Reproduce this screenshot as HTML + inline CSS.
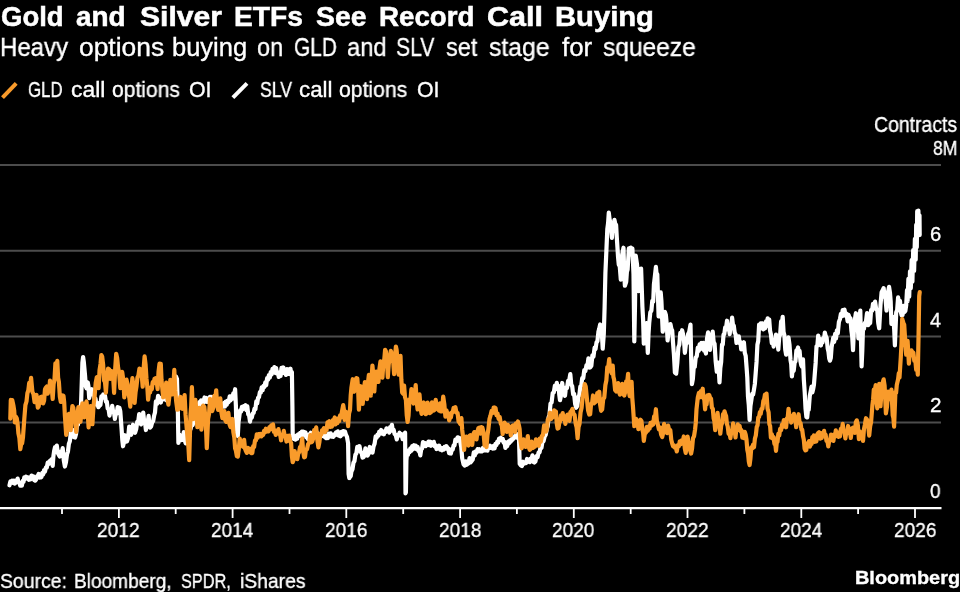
<!DOCTYPE html>
<html><head><meta charset="utf-8"><title>Gold and Silver ETFs See Record Call Buying</title>
<style>
html,body{margin:0;padding:0;background:#000;}
body{width:960px;height:592px;overflow:hidden;position:relative;font-family:"Liberation Sans",sans-serif;color:#fff;}
.t{position:absolute;white-space:nowrap;line-height:1;transform-origin:0 0;will-change:transform;}
.b{-webkit-text-stroke:0.55px #fff;}
.n{-webkit-text-stroke:0.35px #fff;}
svg{position:absolute;left:0;top:0;}
</style></head><body>
<svg width="960" height="592" viewBox="0 0 960 592">
<line x1="0" y1="165.0" x2="941" y2="165.0" stroke="#4c4c4c" stroke-width="2"/><line x1="0" y1="250.8" x2="941" y2="250.8" stroke="#4c4c4c" stroke-width="2"/><line x1="0" y1="336.6" x2="941" y2="336.6" stroke="#4c4c4c" stroke-width="2"/><line x1="0" y1="422.4" x2="941" y2="422.4" stroke="#4c4c4c" stroke-width="2"/>
<line x1="0" y1="508.2" x2="941.5" y2="508.2" stroke="#fff" stroke-width="2.2"/>
<line x1="62.0" y1="508.2" x2="62.0" y2="514" stroke="#fff" stroke-width="1.8"/><line x1="118.9" y1="508.2" x2="118.9" y2="518" stroke="#fff" stroke-width="1.8"/><line x1="175.7" y1="508.2" x2="175.7" y2="514" stroke="#fff" stroke-width="1.8"/><line x1="232.6" y1="508.2" x2="232.6" y2="518" stroke="#fff" stroke-width="1.8"/><line x1="289.5" y1="508.2" x2="289.5" y2="514" stroke="#fff" stroke-width="1.8"/><line x1="346.3" y1="508.2" x2="346.3" y2="518" stroke="#fff" stroke-width="1.8"/><line x1="403.2" y1="508.2" x2="403.2" y2="514" stroke="#fff" stroke-width="1.8"/><line x1="460.1" y1="508.2" x2="460.1" y2="518" stroke="#fff" stroke-width="1.8"/><line x1="516.9" y1="508.2" x2="516.9" y2="514" stroke="#fff" stroke-width="1.8"/><line x1="573.8" y1="508.2" x2="573.8" y2="518" stroke="#fff" stroke-width="1.8"/><line x1="630.7" y1="508.2" x2="630.7" y2="514" stroke="#fff" stroke-width="1.8"/><line x1="687.5" y1="508.2" x2="687.5" y2="518" stroke="#fff" stroke-width="1.8"/><line x1="744.4" y1="508.2" x2="744.4" y2="514" stroke="#fff" stroke-width="1.8"/><line x1="801.3" y1="508.2" x2="801.3" y2="518" stroke="#fff" stroke-width="1.8"/><line x1="858.1" y1="508.2" x2="858.1" y2="514" stroke="#fff" stroke-width="1.8"/><line x1="915.0" y1="508.2" x2="915.0" y2="518" stroke="#fff" stroke-width="1.8"/>
<path d="M9.5 485.29 L10.4 481.41 L11.3 482.46 L12.2 480.61 L13.1 482.91 L14 480.71 L14.9 483.57 L15.8 480.74 L16.7 481.72 L17.6 478.57 L18.48 482.48 L19.35 482.53 L20.23 485.67 L21.1 485.68 L21.9 485.69 L22.7 480.9 L23.5 481.95 L24.3 477.34 L25.2 478.88 L26.1 476.73 L27 477.45 L27.9 477.46 L28.8 479.76 L29.7 478.92 L30.6 479.23 L31.5 475.53 L32.4 476.76 L33.3 476.41 L34.2 479.98 L35.1 480.68 L36 479.83 L36.9 476.39 L37.8 475.95 L38.7 473.95 L39.6 477.54 L40.5 476.37 L41.4 477.19 L42.3 472.92 L43.2 474.35 L44.1 470.04 L45 471.69 L45.9 467.43 L46.8 467.58 L47.7 462.65 L48.6 463.99 L49.53 461.05 L50.47 462.78 L51.4 459.34 L52.7 465.97 L53.4 456.21 L54.1 451.24 L55 447.19 L55.9 449.47 L56.8 445.51 L57.85 453.07 L58.9 455.05 L59.85 456.55 L60.8 451.52 L61.75 452.7 L62.7 448.11 L63.8 460.3 L64.9 466.51 L65.95 462.27 L67 454.44 L67.95 451.56 L68.9 443.82 L69.85 441.21 L70.8 432.79 L71.9 434.56 L73 430 L74.05 437.3 L75.1 437.51 L76.05 433.87 L77 424.2 L77.95 424.77 L78.9 418.62 L80 413.43 L81.1 403.02 L82.4 362.87 L83.1 357.04 L83.8 361.85 L85.1 376.07 L85.8 386.29 L86.5 388.24 L87.8 382.49 L88.5 386.67 L89.2 398.14 L90.1 393.28 L91 394.39 L91.9 389.21 L92.8 394.38 L93.7 393.39 L94.6 399.5 L95.5 398.7 L96.4 404.65 L97.3 402.95 L98.4 407.17 L99.5 405.73 L100.45 404.86 L101.4 396.45 L102.3 398.02 L103.2 394.49 L104.1 395.66 L105 395.7 L105.9 401.78 L106.8 401.54 L107.7 408.4 L108.6 409.26 L109.5 415.57 L110.4 411.08 L111.3 411.72 L112.2 405.84 L113.1 411.4 L114 412.07 L114.9 418.93 L115.8 413.72 L116.7 413.8 L117.6 407.16 L118.5 409.29 L119.4 407.72 L120.3 411.33 L121.6 429.26 L122.3 439.92 L123 446.27 L123.95 442.48 L124.9 435.21 L125.95 441.63 L127 441.5 L128.1 437.85 L129.2 426.51 L130.15 434.47 L131.1 434.79 L132.05 432.48 L133 424.71 L134.05 431.46 L135.1 432.71 L136.2 429.16 L137.3 421.6 L138.25 421.17 L139.2 414.03 L140.15 421.97 L141.1 424.42 L142.15 421.15 L143.2 412.6 L144.1 420.85 L145 422.37 L145.9 430.03 L146.8 423.46 L147.7 421.84 L148.6 415.95 L149.3 423.85 L150 427.72 L151.1 426.35 L152.2 422.11 L153.15 421.08 L154.1 415.81 L155 412.47 L155.9 401.48 L157 403.91 L158.1 395.88 L159 400.69 L159.9 398.89 L160.8 402.58 L161.7 397.68 L162.6 399.7 L163.5 393.55 L164.4 398.96 L165.3 396.49 L166.2 400.15 L167.1 394.11 L168 393.91 L168.9 389.71 L169.8 391.19 L170.7 387.74 L171.6 390.09 L172.5 383.84 L173.4 383.36 L174.3 378.54 L175.2 380.07 L176.1 376.65 L177 378.94 L177.8 407.96 L178.4 442.93 L179.7 434.89 L180.8 440.09 L181.9 439.92 L182.85 439.97 L183.8 432.02 L184.75 440.44 L185.7 443.28 L186.75 439.35 L187.8 430.44 L188.7 431.49 L189.6 427.82 L190.5 429.29 L191.6 424.95 L192.7 425.04 L193.65 420.39 L194.6 421.85 L195.6 413.91 L196.6 414 L197.6 406.94 L198.6 406.72 L199.42 402.15 L200.24 403.73 L201.06 400.43 L201.88 402.81 L202.7 400.11 L203.6 402.85 L204.5 397.48 L205.4 399.32 L206.3 397.93 L207.2 401.98 L208.1 399.75 L209 401.13 L209.9 396.78 L210.8 398.14 L211.7 396.93 L212.6 400.54 L213.5 397.42 L214.4 402.19 L215.3 400.55 L216.2 405.15 L217.1 401.39 L218 403.76 L218.9 399.79 L219.8 405.37 L220.7 403.56 L221.6 407.69 L222.42 405.36 L223.24 406.54 L224.06 402.84 L224.88 406.57 L225.7 401.53 L226.7 404.78 L227.7 400.63 L228.7 401.99 L229.7 396.32 L230.6 400.34 L231.5 396.02 L232.4 398.72 L233.3 393.38 L234.2 395.16 L235.1 389.21 L235.9 405.81 L236.5 435.16 L237.8 435.96 L238.5 422.33 L239.2 417.28 L240.1 410.41 L241 411.58 L241.9 407 L242.8 409.27 L243.7 406.07 L244.6 408.29 L245.5 405.25 L246.4 410.11 L247.3 406.31 L248.2 414.36 L249.1 415.43 L250 421.56 L250.9 416.05 L251.8 417.59 L252.7 413.49 L253.6 412.96 L254.5 408.69 L255.4 409.21 L256.3 401.43 L257.2 403.32 L258.1 397.65 L259 397.21 L259.9 392.01 L260.8 392.64 L261.7 387.43 L262.6 390.36 L263.5 385.95 L264.4 386.97 L265.3 382.28 L266.2 385.25 L267.1 378.16 L268 379.77 L268.9 375.07 L269.8 377.61 L270.7 372.03 L271.6 374.46 L272.5 368.84 L273.4 372.24 L274.3 367.16 L275.2 372.92 L276.1 368.09 L277 373.71 L277.9 372.29 L278.8 376.98 L279.7 376.17 L280.6 376.01 L281.5 367.89 L282.4 368.82 L283.3 367.41 L284.2 373.11 L285.1 371.29 L286 374.96 L286.9 369.11 L287.8 374.02 L288.7 369.28 L289.6 373.77 L290.5 368.74 L291.2 374.81 L291.9 372.01 L292.4 406.28 L292.7 434.54 L293.65 438.76 L294.6 437.65 L295.5 439.5 L296.4 435.76 L297.3 438.66 L298.2 434.26 L299.1 435.81 L300 433.27 L300.9 435.88 L301.8 431.62 L302.7 434.86 L303.6 431.74 L304.5 434.72 L305.4 432.47 L306.3 437.27 L307.2 434.85 L308.1 439.33 L309 434.39 L309.9 436.22 L310.8 432.68 L311.7 436.87 L312.6 434.58 L313.5 437.69 L314.4 433.47 L315.3 434.98 L316.2 431.28 L317.1 434.89 L318 433.42 L318.9 437.17 L319.8 434.49 L320.7 436.53 L321.6 433.26 L322.5 435.93 L323.4 433.31 L324.3 436.57 L325.2 435.81 L326.1 438.18 L327 435.38 L327.9 438.04 L328.8 433.69 L329.7 435.97 L330.6 433.35 L331.5 436.58 L332.4 434.91 L333.3 436.86 L334.2 434.43 L335.1 435.29 L336 432.31 L336.9 434.52 L337.8 431.37 L338.7 435.54 L339.6 432.9 L340.5 436.28 L341.4 431.82 L342.3 434.82 L343.2 431.1 L344.1 433.17 L345 431.56 L345.9 434.54 L347 436.92 L348.1 443.25 L348.6 473.99 L349.3 478.05 L350 476.95 L350.7 476.19 L351.4 471.49 L352.45 469.37 L353.5 462.66 L354.45 461.15 L355.4 454.78 L356.35 453.36 L357.3 446.77 L358.4 449.37 L359.5 446.17 L360.55 451.9 L361.6 452.56 L362.55 457.61 L363.5 457.3 L364.45 455.65 L365.4 448.4 L366.5 454.59 L367.6 455.58 L368.65 453.59 L369.7 446.99 L370.65 452.1 L371.6 451.76 L372.55 452.5 L373.5 446.63 L374.6 443.72 L375.7 436.37 L376.6 437.71 L377.5 434.56 L378.4 435.62 L379.3 431.53 L380.2 433.55 L381.1 429.94 L382 433.54 L382.9 431.59 L383.8 434.3 L384.7 431.17 L385.6 431.89 L386.5 428.34 L387.4 430.97 L388.3 428.99 L389.2 432.6 L390.1 427 L391 429.18 L391.9 424.79 L392.8 430.92 L393.7 429.84 L394.6 433.93 L395.7 434.95 L396.8 439.45 L397.7 434.93 L398.6 435.78 L399.55 432.74 L400.5 435.1 L401.6 434.31 L402.7 439.18 L403.5 434.8 L404.3 436.72 L405.1 432.67 L405.5 493.42 L405.9 492.22 L406.4 460.68 L407 453.68 L407.83 455.04 L408.67 450.26 L409.5 452.41 L410.4 448.26 L411.3 450.83 L412.2 446.16 L413.1 449.33 L414 445.21 L414.9 447.76 L415.8 445.76 L416.7 449.21 L417.6 447.03 L418.5 451 L419.4 450.94 L420.3 455.4 L421.2 449.33 L422.1 448.48 L423 442.17 L423.9 445.35 L424.8 442.95 L425.7 446.12 L426.6 443.93 L427.5 444.68 L428.4 441.6 L429.3 445.14 L430.2 441.72 L431.1 445.82 L432 442.42 L432.9 444.55 L433.8 441.8 L434.7 446.33 L435.6 445.18 L436.5 449.04 L437.4 446.18 L438.3 447.98 L439.2 445.8 L440.1 449.63 L441 447.95 L441.9 450.22 L442.8 448.22 L443.7 449.46 L444.6 446.95 L445.5 448.56 L446.4 446.19 L447.3 447.69 L448.2 448.43 L449.1 453.21 L450 453.32 L450.9 453.55 L451.8 449.05 L452.7 449.5 L453.6 445.46 L454.5 445.37 L455.4 439.57 L456.5 441.25 L457.6 437.34 L458.5 440.39 L459.4 438 L460.3 441.88 L461.25 447.23 L462.2 458.35 L463.5 464.12 L464.6 465.57 L465.7 461.4 L466.65 464.85 L467.6 463.81 L468.55 463.3 L469.5 458.05 L470.55 462.35 L471.6 461.13 L472.7 459.59 L473.8 452.37 L474.75 455.59 L475.7 451.27 L476.6 452.81 L477.5 449.14 L478.4 450.2 L479.3 449.23 L480.2 451.36 L481.1 449.62 L482 451.39 L482.9 447.88 L483.8 450.44 L484.7 447.47 L485.6 450.45 L486.5 449.34 L487.4 450.65 L488.3 447.04 L489.2 446.88 L490.1 445.61 L491 447.91 L491.9 446.86 L492.8 448.68 L493.7 446.01 L494.6 448.22 L495.5 443.77 L496.4 445 L497.3 441.56 L498.2 442.62 L499.1 438.58 L500 439.56 L500.9 437.8 L501.8 440.39 L502.7 438.86 L503.6 442.58 L504.5 442 L505.4 447.99 L506.3 443.97 L507.2 445.99 L508.1 441.59 L509 443.35 L509.9 440.38 L510.8 441.55 L511.7 439.17 L512.6 439.72 L513.5 437.21 L514.4 437.84 L515.3 435.39 L516.2 436.58 L517.1 434.28 L518 438.3 L518.9 434.76 L519.7 463.85 L520.8 465.38 L521.9 466.15 L523 461.72 L524.05 463.7 L525.1 462.23 L526.05 463.08 L527 458.94 L527.9 461.16 L528.8 459.75 L529.7 462.16 L530.6 458.66 L531.5 459.41 L532.4 455.38 L533.35 462 L534.3 462.58 L535.4 461.53 L536.5 456.11 L537.55 457.24 L538.6 452.37 L539.55 452.44 L540.5 447.32 L541.45 447.8 L542.4 441.94 L543.5 441.38 L544.6 436.65 L545.7 434.95 L546.8 429.09 L547.7 426.22 L548.6 417.41 L549.55 414.27 L550.5 403.58 L551.6 402.4 L552.7 393.21 L553.8 392.31 L554.9 385.71 L555.85 389.26 L556.8 382.84 L557.7 388.13 L558.6 385.99 L559.3 395.06 L560 400.21 L561.1 395.04 L562.2 382.98 L563.15 391.41 L564.1 393.02 L565 395.76 L565.9 387.67 L567 387.99 L568.1 380.81 L569.2 380.72 L570.3 374.16 L571.25 384.5 L572.2 386.28 L573.15 394.27 L574.1 393.82 L575.15 403.95 L576.2 407.75 L577.3 405.9 L578.4 396.78 L579.35 395.09 L580.3 386.61 L581.25 385.84 L582.2 378.14 L583.25 378.3 L584.3 370.12 L585.4 370.92 L586.5 365.23 L587.45 365.65 L588.4 358.4 L589.35 367.57 L590.3 367.34 L591.35 365.88 L592.4 355.26 L593.5 356.57 L594.6 347.7 L595.55 349.04 L596.5 342.52 L597.45 341.06 L598.4 331.89 L599.2 328.87 L600.15 324.48 L601.1 327.58 L601.9 334.08 L602.7 348.75 L603.8 333.76 L604.6 307.32 L605.4 272.97 L606.5 247.99 L607.3 229.34 L608.1 223.03 L608.8 212.67 L609.5 218.76 L610.8 224.91 L611.9 237.91 L612.7 226.28 L613.5 225.78 L614.45 219.83 L615.4 224.75 L616.1 224.85 L616.8 237.5 L618.1 257.63 L618.8 264.87 L619.5 263.27 L620.8 279.63 L621.5 261.61 L622.2 254.58 L623.5 247.69 L624.2 272.63 L624.9 285.77 L626.2 281.82 L626.9 271.84 L627.6 269.65 L628.9 248.42 L629.85 253.01 L630.8 247.66 L631.6 254.42 L632.4 248.64 L633.5 274.02 L634.3 341.42 L635 305.23 L635.7 255.52 L637 264.28 L637.7 272.63 L638.4 291.08 L639.7 269.16 L640.4 274.51 L641.1 268.5 L642.4 306.79 L643.1 319.36 L643.8 343.65 L645.1 327.73 L645.8 328.99 L646.5 323.16 L647.8 352.8 L648.5 334.21 L649.2 323.35 L650.3 312.46 L651.4 310.67 L652.3 300.75 L653.2 301.75 L653.9 284.56 L654.6 278.79 L655.9 266.87 L656.6 274.55 L657.3 274.24 L658.6 316.44 L659.3 300.95 L660 296.33 L660.7 292.36 L661.4 300.83 L662.7 331.74 L663.8 326.3 L664.9 311.74 L665.9 315.1 L666.75 324.18 L667.6 340.46 L668.55 330.46 L669.5 330.52 L670.45 324.19 L671.4 329.02 L672.2 330.58 L673 342.37 L673.95 354.91 L674.9 372.6 L676.2 373.64 L677.3 363.06 L678.4 347.42 L679.35 344.6 L680.3 332.93 L681.2 337.27 L682.1 330.22 L683 333.99 L683.95 339.95 L684.9 352.87 L685.95 343.74 L687 342.95 L688.1 334.22 L689.2 331.88 L690.5 324.62 L691.2 359.15 L691.9 384.13 L692.85 379.01 L693.8 366.4 L694.75 366.98 L695.7 357.59 L696.75 356.25 L697.8 347.54 L698.7 350.86 L699.6 344.43 L700.5 348.92 L701.4 342.97 L702.3 348.67 L703.2 342.8 L704.1 350.63 L705 348.61 L705.9 353.51 L707 338.55 L708.1 332.44 L709.05 336.26 L710 349.86 L710.9 339.09 L711.8 340.55 L712.7 331.68 L713.65 341.93 L714.6 343.95 L715.7 361.79 L716.8 371.66 L718.1 362.66 L718.8 369.54 L719.5 382.34 L720.33 367.99 L721.17 362.04 L722 344.5 L722.77 344.56 L723.53 334.6 L724.3 334.12 L725.2 327.39 L726.1 327.8 L727 320.72 L727.9 329.62 L728.8 326.38 L729.7 334.13 L730.5 325.49 L731.3 325.41 L732.1 317.64 L732.95 324.66 L733.8 325.84 L734.7 332.73 L735.6 334.3 L736.5 343.01 L737.27 338.03 L738.03 341.17 L738.8 336.36 L739.6 343.03 L740.4 341.88 L741.2 349.4 L742.1 343.16 L743 346.5 L743.9 342.21 L744.8 352.96 L745.7 355.92 L746.6 367.55 L747.3 377.56 L748 396.57 L748.8 405.13 L749.6 419.92 L750.45 405.85 L751.3 400.52 L752.2 393.9 L753.1 394.71 L754 389.43 L754.85 384.02 L755.7 373.03 L756.55 361.92 L757.4 344.82 L758.25 340.93 L759.1 324.58 L759.9 328.7 L760.7 323.39 L761.5 326.1 L762.4 323.35 L763.3 329.42 L764.2 327.32 L765.1 328.28 L766 321.4 L766.9 325.87 L767.67 318.33 L768.43 323.8 L769.2 319.46 L770.05 330.72 L770.9 334.24 L771.8 343.15 L772.7 339.6 L773.6 346.56 L774.4 339.24 L775.2 341.22 L776 334.59 L776.77 342.62 L777.53 341.04 L778.3 349.56 L779.23 336.97 L780.17 334.21 L781.1 321.44 L781.9 324.46 L782.7 316.81 L783.55 331.98 L784.4 335.37 L785.25 349.72 L786.1 354.65 L786.9 352.57 L787.7 339.29 L788.5 337.52 L789.5 344.68 L790.5 360.01 L791.2 363.86 L791.9 376.41 L792.8 368.17 L793.7 370.89 L794.6 362.66 L795.5 361.11 L796.4 350.36 L797.3 350.16 L798.07 347.41 L798.83 353.78 L799.6 350.87 L800.45 361.38 L801.3 365.43 L802.15 366.82 L803 359.29 L803.85 379.84 L804.7 392.04 L805.55 408.89 L806.4 417.14 L807.17 417.44 L807.93 409.97 L808.7 409.74 L809.75 396.19 L810.8 390.51 L811.57 386.56 L812.33 392.44 L813.1 389.27 L813.95 384.62 L814.8 373.74 L815.65 362.98 L816.5 346.34 L817.35 345.82 L818.2 335.53 L819.1 342.17 L820 339.11 L820.9 345.54 L821.7 339.42 L822.5 342.55 L823.3 337.99 L824.07 339.35 L824.83 332.56 L825.6 335.74 L826.65 337.83 L827.7 348.61 L828.47 351.68 L829.23 358.53 L830 360.69 L830.8 358.02 L831.6 347.11 L832.4 342.56 L833.3 337.5 L834.2 341.83 L835.1 333.89 L836 338.45 L836.9 330.27 L837.8 333.21 L838.9 321.87 L840 318.96 L840.9 313.84 L841.8 316.27 L842.7 310.08 L843.6 315.72 L844.5 309.51 L845.4 314.56 L846.5 313.76 L847.6 321.32 L848.55 314.92 L849.5 317.88 L850.45 318.23 L851.4 330.68 L852.2 336.42 L853 350.08 L853.95 329.26 L854.9 319.27 L855.85 313.22 L856.8 316.2 L857.6 322.68 L858.4 338.35 L859.35 318.97 L860.3 310.63 L861.6 366.42 L862.3 350.55 L863 327.46 L863.95 328.95 L864.9 322.85 L865.95 321.78 L867 313.19 L868.1 325.2 L869.2 323.7 L870.15 322.97 L871.1 310.19 L872.05 310.84 L873 303.76 L874.05 307.2 L875.1 301.68 L876.2 309.35 L877.3 310.23 L878.25 323.12 L879.2 328.26 L880.5 304.93 L881.6 292.29 L882.7 290.3 L883.65 288.06 L884.6 296.6 L885.55 298.57 L886.5 310.52 L887.3 296.54 L888.1 291.95 L889.05 286.87 L890 292.84 L890.7 301.73 L891.4 323.85 L892.45 316.54 L893.5 320.04 L894.2 329.72 L894.9 345.35 L896.2 312.3 L897.15 310.19 L898.1 297.35 L899.05 304.83 L900 300.81 L900.8 311.87 L901.6 315.37 L902.55 315.09 L903.5 305.85 L904.45 312.16 L905.4 310.79 L906.2 305.14 L907 290.22 L907.6 301.15 L908.4 278.9 L909.2 296.72 L910 271.36 L910.8 288.31 L911.6 260.2 L912.4 281.61 L913.2 250.04 L914.1 270.95 L914.9 238.85 L915.7 259.82 L916.2 224.9 L916.8 247.22 L917.2 211.19 L917.8 234.06 L918.4 210.49 L918.9 232.9 L919.5 215.38 L919.7 235.1" fill="none" stroke="#fff" stroke-width="4.2" stroke-linejoin="round" stroke-linecap="round"/>
<path d="M10.3 418.6 L10.8 399.97 L11.5 404.6 L12.2 400.03 L13.5 406 L14.2 410.48 L14.9 422.37 L15.85 416.57 L16.8 418.51 L17.6 423.61 L18.4 433.41 L19.35 437.76 L20.3 449.25 L21.2 443.99 L22.1 443.34 L23 437.22 L24.3 418.8 L25.4 405.22 L26.5 401.52 L27.4 393.22 L28.3 390.49 L29.2 382.89 L30.15 385.65 L31.1 377.85 L32.4 391.85 L33.5 394.14 L34.6 402.24 L35.55 395.98 L36.5 395.07 L37.8 407.65 L38.7 406.26 L39.6 399.11 L40.5 397.22 L41.4 396.76 L42.3 402.82 L43.2 403.29 L44.1 400.55 L45 389.25 L45.9 387.56 L46.8 386.51 L47.7 393.76 L48.6 390.3 L49.3 388.93 L50 380.7 L50.9 389.54 L51.8 388.84 L52.7 398.94 L53.6 384.1 L54.5 379.16 L55.4 363.44 L56.35 366.61 L57.3 360.94 L58.1 377.53 L58.9 382.12 L59.85 396.62 L60.8 401.98 L61.7 401.33 L62.6 395.46 L63.5 395.94 L64.2 402.33 L64.9 416 L66.2 434.82 L67.1 430.48 L68 418.18 L68.9 413.76 L69.85 418.68 L70.8 430.09 L71.6 413.86 L72.4 406.06 L73.35 407.88 L74.3 416.68 L75.25 422.25 L76.2 431.84 L77.3 415.39 L78.4 407.12 L79.45 410.16 L80.5 421.83 L81.45 409.73 L82.4 403.35 L83.35 405.19 L84.3 417.29 L85.4 404.77 L86.5 401.42 L87.55 410.91 L88.6 427.43 L89.55 412.11 L90.5 406.19 L91.45 411.82 L92.4 424.25 L93.5 406.12 L94.6 396.33 L95.7 382.89 L96.8 377.26 L97.7 376.71 L98.6 388.18 L99.55 370.08 L100.5 364.02 L101.35 355.02 L102.2 356.69 L103.15 364.82 L104.1 380.71 L105 382.06 L105.9 392.72 L107 376.96 L108.1 368.51 L109.2 369.4 L110.3 378.81 L111.25 371.14 L112.2 371.27 L113.15 377.22 L114.1 392.83 L115.15 369.47 L116.2 353.75 L117.15 357.86 L118.1 367.6 L119.2 373.23 L120.3 388.12 L121.25 374.03 L122.2 371.97 L123.25 379.46 L124.3 397.31 L125.4 383.5 L126.5 379.64 L127.45 384.05 L128.4 394.05 L129.35 397.83 L130.3 406.6 L131.35 389.12 L132.4 378.16 L133.5 386.83 L134.6 402.98 L135.55 392.27 L136.5 386.34 L137.45 377.47 L138.4 375.63 L139.45 368.61 L140.5 369.08 L141.6 373.57 L142.7 386.75 L143.65 368.07 L144.6 356.43 L145.55 364.22 L146.5 378.98 L147.3 386.5 L148.1 399.64 L149.05 391.58 L150 392.57 L150.9 387.35 L151.8 389.25 L152.7 382.2 L153.6 383.31 L154.5 378.79 L155.4 378.26 L156.5 379.71 L157.6 389.03 L158.55 371.54 L159.5 363.65 L160.8 363.78 L161.5 379.79 L162.2 387.28 L163.15 397.28 L164.1 396.59 L165.15 393.21 L166.2 382.62 L167.3 397.69 L168.4 404.74 L169.35 396.18 L170.3 379.93 L171.25 390.12 L172.2 394.39 L173.25 387.75 L174.3 369.77 L175.25 390.14 L176.2 401.36 L177.3 409.6 L178.4 409.4 L179.35 407.86 L180.3 396.83 L181.35 405.4 L182.4 408.74 L183.5 405.5 L184.6 395.01 L185.55 414.69 L186.5 425.8 L187.8 440.89 L188.5 447.76 L189.2 460.08 L190.5 414.81 L191.2 405.79 L191.9 387.12 L193.2 419.12 L194.3 406.57 L195.4 399.87 L196.35 409.93 L197.3 427.26 L198.25 415.12 L199.2 407.79 L200.3 415.47 L201.4 429.66 L202.3 414.46 L203.2 405.61 L204.3 406.81 L205.4 417.57 L206.1 430.41 L206.8 448.25 L208.1 418.91 L209.05 413.78 L210 398.8 L211.1 408.32 L212.2 411 L213.25 407.7 L214.3 395.83 L215.25 398.29 L216.2 390.25 L217.15 404.87 L218.1 409.96 L219.2 408.65 L220.3 398.33 L221.35 412.11 L222.4 418.07 L223.35 417.15 L224.3 411.09 L225.25 420.26 L226.2 421.87 L227.3 421.26 L228.4 412.88 L229.45 424.1 L230.5 426.99 L231.45 425.73 L232.4 418.99 L233.35 432.14 L234.3 437.44 L235.1 448.26 L235.9 450.61 L236.85 456.19 L237.8 456.64 L238.75 449.42 L239.7 438.5 L240.8 443.99 L241.9 445.17 L243 446.63 L244.1 439.76 L245 448.5 L245.9 451.07 L246.8 452.84 L247.7 447.85 L248.6 448.91 L249.53 448.59 L250.47 452.55 L251.4 453.08 L252.3 453.06 L253.2 446.18 L254.1 446.88 L255 440.44 L255.9 440.35 L256.8 434.36 L257.7 437.83 L258.6 434.03 L259.5 435.75 L260.4 433.88 L261.3 436.46 L262.2 434.18 L263.1 434.96 L264 430.84 L264.9 432.33 L265.8 428.67 L266.7 431.52 L267.6 430.11 L268.5 431.34 L269.4 427.15 L270.3 429.27 L271.2 425.43 L272.1 428.9 L273 424.36 L273.9 431.75 L274.8 430.3 L275.7 434.94 L276.6 431.32 L277.5 432.85 L278.4 429.16 L279.3 434.06 L280.2 434.91 L281.1 440.29 L282 434.8 L282.9 436 L283.8 430.87 L284.7 435.91 L285.6 436.18 L286.5 441.54 L287.4 435.84 L288.3 439.87 L289.2 435.65 L290.15 441.57 L291.1 442.88 L291.9 456.28 L292.7 462.11 L293.65 459.78 L294.6 450.99 L295.5 455.5 L296.4 454.84 L297.3 459.16 L298.2 453.79 L299.1 452.15 L300 447.01 L301.1 446.44 L302.2 438.54 L303.15 451.18 L304.1 457.3 L305 457 L305.9 449.54 L307 449.23 L308.1 444.21 L309.2 442.55 L310.3 435.06 L311.25 442.29 L312.2 441.53 L313.15 438.57 L314.1 430.18 L315.15 432.36 L316.2 427.35 L317.3 439.74 L318.4 447.47 L319.35 442.42 L320.3 433.82 L321.2 434.53 L322.1 430.2 L323 430.02 L323.9 428.18 L324.8 432.23 L325.7 429.69 L326.6 429.96 L327.5 422.25 L328.4 422.12 L329.3 421.17 L330.2 427.01 L331.1 425.67 L332 426.44 L332.9 420.04 L333.8 420.76 L334.7 417.43 L335.6 424.4 L336.5 422.45 L337.4 422.92 L338.3 418.42 L339.2 421.06 L340.1 415.25 L341 417.46 L341.9 411.96 L343.2 405.09 L343.9 409.49 L344.6 419.78 L345.55 411.66 L346.5 412.83 L347.3 414.39 L348.1 426.22 L349.05 413.37 L350 409.91 L350.7 395.53 L351.4 387.83 L352.7 379.23 L353.4 389.92 L354.1 391.68 L355.4 384.69 L356.35 378.12 L357.3 378.53 L358.1 388.55 L358.9 409.59 L359.85 393.3 L360.8 386.22 L361.75 390.79 L362.7 403.89 L363.8 389.7 L364.9 382.03 L365.95 387.76 L367 399.14 L367.95 382.7 L368.9 374.82 L369.85 382.24 L370.8 395.76 L371.6 377.98 L372.4 365.57 L373.35 374.89 L374.3 391.49 L375.25 377.25 L376.2 371.69 L377.3 372.6 L378.4 381.96 L379.45 368.78 L380.5 361.35 L381.45 364.71 L382.4 377.7 L383.35 363.52 L384.3 359.13 L385.1 349.75 L385.9 351.19 L386.85 359.98 L387.8 377.25 L388.75 364.11 L389.7 358.34 L390.8 350.9 L391.9 354.44 L393 358.09 L394.1 374.03 L395 356.12 L395.9 346.55 L396.6 349.61 L397.3 358.63 L398.6 374.64 L399.55 369.69 L400.5 355.78 L401.35 379.7 L402.2 392.54 L403.15 393.86 L404.1 385.66 L405 397.09 L405.9 399.8 L406.75 415.34 L407.6 421.89 L408.55 415.61 L409.5 399.35 L410.45 399.88 L411.4 389.18 L412.45 399.36 L413.5 403.56 L414.6 397.42 L415.7 385.04 L416.65 401.38 L417.6 409.44 L418.55 405.89 L419.5 394.3 L420.55 407.8 L421.6 413.87 L422.7 411.41 L423.8 402.47 L424.75 411.78 L425.7 414.18 L426.65 413.48 L427.6 402.7 L428.65 411.64 L429.7 413.01 L430.8 412.48 L431.9 402.41 L432.85 410.74 L433.8 410.43 L434.75 409.84 L435.7 399.8 L436.75 408.02 L437.8 407.51 L438.9 410.54 L440 403.26 L440.95 411.49 L441.9 411.32 L443.2 396.6 L444.3 404.05 L445.4 416.69 L446.35 410.28 L447.3 413.17 L448.25 413.37 L449.2 420.38 L450 417.63 L450.9 417.47 L451.8 412.43 L452.7 412.39 L453.6 407.79 L454.5 410.05 L455.4 407.23 L456.5 412.81 L457.6 413.03 L458.55 421.23 L459.5 422.67 L460.45 424.33 L461.4 418.06 L462.2 429.89 L463 436.45 L464.1 449.97 L465.15 440.46 L466.2 436.52 L467.3 437.55 L468.4 445.55 L469.35 435.94 L470.3 435.25 L471.25 436.44 L472.2 445 L473.25 434.48 L474.3 432.19 L475.4 432.3 L476.5 439.45 L477.45 431.49 L478.4 428.19 L479.35 427.73 L480.3 433.58 L481.35 427.14 L482.4 427.69 L483.5 432.19 L484.6 445.5 L485.55 442.49 L486.5 447.04 L487.45 435.16 L488.4 429.13 L489.45 419.2 L490.5 415.62 L491.6 410.93 L492.7 413.01 L493.65 407.65 L494.6 407.47 L495.55 408 L496.5 415.19 L497.55 413.56 L498.6 418.9 L499.7 417.05 L500.8 423.62 L501.75 425.32 L502.7 434.09 L503.65 426.22 L504.6 422.6 L505.7 424.71 L506.8 431.85 L507.85 424.85 L508.9 426.98 L509.85 426.96 L510.8 435.28 L511.75 426.35 L512.7 425.61 L513.8 425.1 L514.9 432.14 L515.95 423.26 L517 423.23 L517.95 421.5 L518.9 425.17 L519.6 428.94 L520.3 439.41 L521.6 448.31 L522.55 446.16 L523.5 439.39 L524.6 446.19 L525.7 446.8 L526.75 445.17 L527.8 436.08 L528.75 447.08 L529.7 449.73 L530.65 449.02 L531.6 441.53 L532.7 447.94 L533.8 447.17 L534.85 446.59 L535.9 439.43 L536.85 445.26 L537.8 444.47 L538.75 445.82 L539.7 438.73 L540.8 441.66 L541.9 436.02 L543 434.94 L544.1 425.41 L545 431.36 L545.9 431.53 L546.85 429.4 L547.8 419.39 L548.9 419.72 L550 412.74 L551.1 419.01 L552.2 417.47 L553.15 416.88 L554.1 410.26 L555 414.3 L555.9 411.45 L556.75 423.47 L557.6 428.63 L558.55 427.96 L559.5 421.16 L560 421.77 L560.9 415.48 L561.8 418.6 L562.7 413 L563.6 419.49 L564.5 418.02 L565.4 423.82 L566.5 416.14 L567.6 414.59 L568.55 414.65 L569.5 420.86 L570.45 412.07 L571.4 411.11 L572.45 408.99 L573.5 413.76 L574.6 415.01 L575.7 423.74 L576.65 427.48 L577.6 438.2 L578.55 427.16 L579.5 423.95 L580.55 412.55 L581.6 407.78 L582.7 396.28 L583.8 391.55 L584.75 384.09 L585.7 386.55 L587 399.55 L588.1 410.44 L589.2 414.53 L590.15 414.19 L591.1 403.83 L592.05 403.29 L593 395.48 L594.05 403.33 L595.1 402.31 L596.2 401.55 L597.3 393.07 L598.25 397.05 L599.2 391.73 L600.15 404.67 L601.1 410.8 L602.15 409.46 L603.2 399.29 L604.3 397.36 L605.4 384.95 L606.35 380.55 L607.3 366.98 L608.25 366.93 L609.2 359.17 L610 368.59 L610.8 371.31 L611.75 373.22 L612.7 365.65 L613.4 376.92 L614.1 379.51 L615.15 390.22 L616.2 391.45 L617.15 390.04 L618.1 383.05 L619.05 392.33 L620 394.66 L621.1 391.58 L622.2 383.92 L623.25 393.93 L624.3 395.51 L625.25 391.65 L626.2 381.26 L627.15 382.19 L628.1 373.79 L628.9 390.84 L629.7 396.16 L630.65 393.3 L631.6 381.94 L632.3 398.12 L633 406.91 L634.3 426.27 L635.25 419.82 L636.2 419.07 L637.3 421.23 L638.4 429.11 L639.45 421.53 L640.5 419.77 L641.45 421.05 L642.4 429.93 L643.1 432.44 L643.8 440.87 L644.85 433.57 L645.9 432.63 L646.85 426.97 L647.8 430.77 L648.7 426.43 L649.6 428.6 L650.5 422.97 L651.4 425.84 L652.3 422.12 L653.2 424.59 L654.1 416.45 L655 417.08 L655.9 409.23 L656.85 420.97 L657.8 424.41 L658.9 429.28 L660 427.4 L661.1 434.43 L662.2 437.02 L663.15 432.92 L664.1 423.94 L665 430.37 L665.9 431.95 L667 433.12 L668.1 425.61 L669.2 430.18 L670.3 430.02 L671.25 439.78 L672.2 443.62 L673.1 446.29 L674 445.29 L674.9 447.76 L675.85 447.71 L676.8 451.4 L677.85 445.08 L678.9 446.15 L679.8 441.25 L680.7 444.33 L681.6 440.26 L682.7 442.05 L683.8 436.45 L684.75 448.09 L685.7 452.82 L686.65 447.05 L687.6 436.52 L688.65 443.31 L689.7 443.06 L690.4 451.34 L691.1 453.59 L692.05 448.52 L693 438.16 L694.05 436.17 L695.1 429.33 L695.8 422.46 L696.5 409.23 L697.8 397.52 L698.9 392.86 L700 397.32 L700.9 391.06 L701.8 395.1 L702.7 388.74 L703.5 398.43 L704.3 399.64 L705.1 409.39 L705.87 402.07 L706.63 404.33 L707.4 395.39 L708.3 397.99 L709.2 394.92 L710.1 397.56 L711 398.55 L711.9 407.67 L712.8 408.79 L713.6 418.13 L714.4 421.18 L715.2 430.16 L716 423.15 L716.8 421.14 L717.6 412.85 L718.5 423.28 L719.4 425.64 L720.3 433.68 L721.2 425.51 L722.1 423.11 L723 414.19 L723.77 414.77 L724.53 411.26 L725.3 414.05 L726.1 415.95 L726.9 423.93 L727.7 426.34 L728.6 433.65 L729.5 431.9 L730.4 438.21 L731.3 431.59 L732.2 430.29 L733.1 423.38 L733.9 429.9 L734.7 430.61 L735.5 437.45 L736.27 429.4 L737.03 430.4 L737.8 424.3 L738.7 428.33 L739.6 425.89 L740.5 431.25 L741.4 429.9 L742.3 437.58 L743.2 436.75 L744 438.12 L744.8 431.85 L745.6 434.29 L746.45 439.29 L747.3 449.76 L748.07 453.31 L748.83 461.49 L749.6 465.03 L750.45 458.43 L751.3 447.3 L752.2 448.43 L753.1 444.58 L754 447.27 L754.9 438.66 L755.8 435.46 L756.7 427.23 L757.5 425.45 L758.3 417.32 L759.1 416.91 L759.9 412.09 L760.7 413.89 L761.5 408.95 L762.4 408.69 L763.3 401.17 L764.2 399.15 L764.97 394.52 L765.73 399 L766.5 393.52 L767.55 408.67 L768.6 412.28 L769.37 424.23 L770.13 426.05 L770.9 437.71 L771.8 434.27 L772.7 438.45 L773.6 437.09 L774.4 443.77 L775.2 443.11 L776 450.87 L776.77 442.49 L777.53 441.85 L778.3 433.96 L779.23 435.55 L780.17 428.9 L781.1 430.07 L782 424.71 L782.9 426.77 L783.8 420 L784.57 423.97 L785.33 423.08 L786.1 427.29 L786.9 418.25 L787.7 417.75 L788.5 408.85 L789.4 415.56 L790.3 415.6 L791.2 422.6 L792.1 418.65 L793 419.21 L793.9 413.8 L794.67 419.4 L795.43 420.59 L796.2 427.17 L797 420.04 L797.8 419.34 L798.6 414.22 L799.6 422.64 L800.6 423.2 L801.4 429.58 L802.2 429.59 L803 435.98 L803.8 439.63 L804.6 448.68 L805.4 450.41 L806.3 449.92 L807.2 443.26 L808.1 443.81 L809 441.04 L809.9 446.59 L810.8 444.13 L811.57 443.96 L812.33 437.05 L813.1 437.76 L813.9 435.42 L814.7 441.81 L815.5 439.99 L816.4 441.24 L817.3 434.23 L818.2 433.05 L819.1 432.14 L820 438.57 L820.9 437.11 L821.7 438.03 L822.5 432.81 L823.3 434.39 L824.07 430.9 L824.83 435.98 L825.6 434.58 L826.5 440.93 L827.4 440.64 L828.3 446.44 L829.2 440.94 L830.1 440.63 L831 434.65 L831.8 437.3 L832.6 436.36 L833.4 441 L834.2 434.41 L835 436.76 L835.8 430.28 L836.7 434.86 L837.6 432.49 L838.5 436.95 L839.25 433.01 L840 436.33 L840.9 428.83 L841.8 430.12 L842.7 423.94 L843.6 430.81 L844.5 431.93 L845.4 438.4 L846.3 432.29 L847.2 433.07 L848.1 425.98 L849 431.85 L849.9 431.24 L850.8 437.95 L851.9 428.53 L853 427.73 L853.95 427.25 L854.9 432.85 L855.85 422 L856.8 420.42 L857.85 425.28 L858.9 439.15 L860 431.66 L861.1 433.72 L862.05 434.07 L863 440.99 L863.95 429.13 L864.9 424.66 L865.95 418.23 L867 419.54 L868.1 424.59 L869.2 435.63 L870.15 426.39 L871.1 421.94 L872.4 405.31 L873.1 399.73 L873.8 389.56 L874.75 390.92 L875.7 385.14 L876.5 401.08 L877.3 408.32 L878.25 400.71 L879.2 383.91 L880.5 406.24 L881.6 389.53 L882.7 382.65 L883.65 379.38 L884.6 385.54 L885.9 413.33 L887 406.71 L888.1 391.5 L889.05 399.32 L890 396.42 L890.7 395.87 L891.4 389.66 L892.7 415.26 L893.4 417.96 L894.1 426.63 L895.4 392.08 L896.1 392.8 L896.8 384.9 L898.1 379.22 L898.8 373.17 L899.5 377.7 L900.8 357.2 L901.5 343.69 L902.2 318.86 L903.5 323.41 L904.2 324.51 L904.9 336.23 L906.2 354.76 L906.9 354.13 L907.6 340.87 L908.9 363.59 L909.6 354.9 L910.3 355.92 L911.35 350.33 L912.4 352.06 L913.35 352.58 L914.3 360.71 L915.25 359.3 L916.2 369.77 L917 366.16 L917.8 374.61 L918.6 332.78 L919.2 296.12 L919.7 292.2" fill="none" stroke="#f99b2b" stroke-width="4.2" stroke-linejoin="round" stroke-linecap="round"/>
<line x1="2.5" y1="97.6" x2="16.2" y2="83.4" stroke="#f99b2b" stroke-width="4"/>
<line x1="232.9" y1="97.6" x2="247" y2="83.4" stroke="#fff" stroke-width="4"/>
</svg>
<div class="t b" id="t0" style="left:1.21px;top:3.02px;font-size:27.5px;font-weight:bold;transform:scaleX(0.9954);">Gold</div>
<div class="t b" id="t1" style="left:76.46px;top:3.02px;font-size:27.5px;font-weight:bold;transform:scaleX(1.0152);">and</div>
<div class="t b" id="t2" style="left:139.90px;top:3.02px;font-size:27.5px;font-weight:bold;transform:scaleX(1.0950);">Silver</div>
<div class="t b" id="t3" style="left:233.97px;top:3.02px;font-size:27.5px;font-weight:bold;transform:scaleX(1.0241);">ETFs</div>
<div class="t b" id="t4" style="left:315.70px;top:3.02px;font-size:27.5px;font-weight:bold;transform:scaleX(1.0315);">See</div>
<div class="t b" id="t5" style="left:378.50px;top:3.02px;font-size:27.5px;font-weight:bold;transform:scaleX(1.0081);">Record</div>
<div class="t b" id="t6" style="left:487.08px;top:3.02px;font-size:27.5px;font-weight:bold;transform:scaleX(1.1099);">Call</div>
<div class="t b" id="t7" style="left:554.65px;top:3.02px;font-size:27.5px;font-weight:bold;transform:scaleX(1.0613);">Buying</div>
<div class="t n" id="s0" style="left:0.38px;top:34.71px;font-size:25.5px;transform:scaleX(0.9416);">Heavy</div>
<div class="t n" id="s1" style="left:79.24px;top:34.71px;font-size:25.5px;transform:scaleX(1.0352);">options</div>
<div class="t n" id="s2" style="left:171.65px;top:34.71px;font-size:25.5px;transform:scaleX(0.9947);">buying</div>
<div class="t n" id="s3" style="left:257.16px;top:34.71px;font-size:25.5px;transform:scaleX(0.9209);">on</div>
<div class="t n" id="s4" style="left:294.26px;top:34.71px;font-size:25.5px;transform:scaleX(0.8183);">GLD</div>
<div class="t n" id="s5" style="left:347.15px;top:34.71px;font-size:25.5px;transform:scaleX(0.9326);">and</div>
<div class="t n" id="s6" style="left:396.35px;top:34.71px;font-size:25.5px;transform:scaleX(0.8310);">SLV</div>
<div class="t n" id="s7" style="left:445.60px;top:34.71px;font-size:25.5px;transform:scaleX(0.9206);">set</div>
<div class="t n" id="s8" style="left:489.06px;top:34.71px;font-size:25.5px;transform:scaleX(0.9705);">stage</div>
<div class="t n" id="s9" style="left:562.41px;top:34.71px;font-size:25.5px;transform:scaleX(1.0158);">for</div>
<div class="t n" id="s10" style="left:603.31px;top:34.71px;font-size:25.5px;transform:scaleX(0.9616);">squeeze</div>
<div class="t n" id="la0" style="left:28.46px;top:80.27px;font-size:21.3px;transform:scaleX(0.7881);">GLD</div>
<div class="t n" id="la1" style="left:71.29px;top:80.27px;font-size:21.3px;transform:scaleX(1.0736);">call</div>
<div class="t n" id="la2" style="left:112.46px;top:80.27px;font-size:21.3px;transform:scaleX(0.9896);">options</div>
<div class="t n" id="la3" style="left:188.85px;top:80.27px;font-size:21.3px;transform:scaleX(0.9900);">OI</div>
<div class="t n" id="lb0" style="left:259.51px;top:80.27px;font-size:21.3px;transform:scaleX(0.8272);">SLV</div>
<div class="t n" id="lb1" style="left:299.41px;top:80.27px;font-size:21.3px;transform:scaleX(1.0467);">call</div>
<div class="t n" id="lb2" style="left:339.45px;top:80.27px;font-size:21.3px;transform:scaleX(0.9941);">options</div>
<div class="t n" id="lb3" style="left:417.05px;top:80.27px;font-size:21.3px;transform:scaleX(0.9900);">OI</div>
<div class="t n" id="src0" style="left:0.43px;top:570.69px;font-size:20.8px;transform:scaleX(0.9339);">Source:</div>
<div class="t n" id="src1" style="left:73.77px;top:570.69px;font-size:20.8px;transform:scaleX(0.9178);">Bloomberg,</div>
<div class="t n" id="src2" style="left:181.27px;top:570.69px;font-size:20.8px;transform:scaleX(0.7840);">SPDR,</div>
<div class="t n" id="src3" style="left:239.74px;top:570.69px;font-size:20.8px;transform:scaleX(0.9309);">iShares</div>
<div class="t n" id="ct" style="left:873.93px;top:115.27px;font-size:21.3px;transform:scaleX(0.9121);">Contracts</div>
<div class="t n" id="a8" style="left:933.31px;top:138.20px;font-size:20.2px;transform:scaleX(0.8683);">8M</div>
<div class="t n" id="a6" style="left:930.19px;top:224.20px;font-size:20.2px;">6</div>
<div class="t n" id="a4" style="left:930.40px;top:310.20px;font-size:20.2px;transform:scaleX(0.9803);">4</div>
<div class="t n" id="a2" style="left:930.17px;top:395.20px;font-size:20.2px;transform:scaleX(1.0227);">2</div>
<div class="t n" id="a0" style="left:930.44px;top:481.20px;font-size:20.2px;transform:scaleX(0.9385);">0</div>
<div class="t n" id="bb" style="left:855.31px;top:568.22px;font-size:19px;font-weight:bold;transform:scaleX(1.0475);">Bloomberg</div>
<div class="t n" id="x2012" style="left:97.41px;top:520.20px;font-size:20.2px;transform:scaleX(0.9482);">2012</div>
<div class="t n" id="x2014" style="left:211.15px;top:520.20px;font-size:20.2px;transform:scaleX(0.9393);">2014</div>
<div class="t n" id="x2016" style="left:324.88px;top:520.20px;font-size:20.2px;transform:scaleX(0.9437);">2016</div>
<div class="t n" id="x2018" style="left:438.61px;top:520.20px;font-size:20.2px;transform:scaleX(0.9437);">2018</div>
<div class="t n" id="x2020" style="left:552.35px;top:520.20px;font-size:20.2px;transform:scaleX(0.9415);">2020</div>
<div class="t n" id="x2022" style="left:666.08px;top:520.20px;font-size:20.2px;transform:scaleX(0.9482);">2022</div>
<div class="t n" id="x2024" style="left:779.82px;top:520.20px;font-size:20.2px;transform:scaleX(0.9393);">2024</div>
<div class="t n" id="x2026" style="left:893.55px;top:520.20px;font-size:20.2px;transform:scaleX(0.9437);">2026</div>
</body></html>
